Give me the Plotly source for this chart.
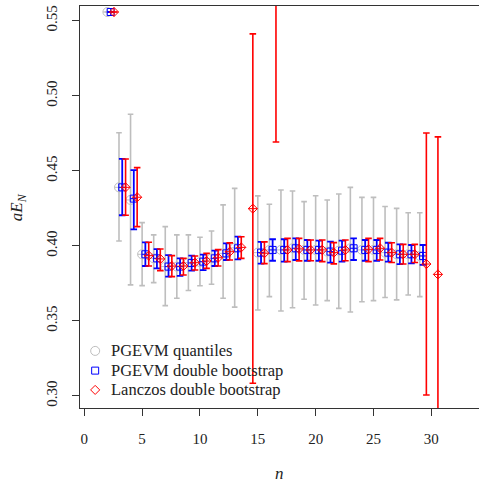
import plotly.graph_objects as go

# ---------------- data ----------------
n_grey = [2, 3, 4, 5, 6, 7, 8, 9, 10, 11, 12, 13, 15, 16, 17, 18, 19, 20, 21, 22, 23, 24, 25, 26, 27, 28, 29]
grey_val = [0.5558, 0.439, 0.4306, 0.3944, 0.3917, 0.3862, 0.3862, 0.3888, 0.3892, 0.3917, 0.395, 0.3987,
            0.3955, 0.3973, 0.3973, 0.3984, 0.3973, 0.3973, 0.3962, 0.3968, 0.3984, 0.3973, 0.3973, 0.3955,
            0.3944, 0.3944, 0.3933]
grey_hi = [0.5558, 0.4754, 0.4877, 0.4155, 0.4073, 0.4128, 0.4073, 0.4073, 0.4057, 0.4099, 0.4273, 0.4383,
           0.4333, 0.4277, 0.4372, 0.4366, 0.4295, 0.4334, 0.4306, 0.4346, 0.4390, 0.4323, 0.4323, 0.4262,
           0.4250, 0.4221, 0.4221]
grey_lo = [0.5558, 0.4033, 0.3740, 0.3735, 0.3755, 0.3602, 0.3651, 0.3703, 0.3734, 0.3744, 0.3651, 0.3592,
           0.3573, 0.3662, 0.3566, 0.3588, 0.3644, 0.3606, 0.3635, 0.3584, 0.3560, 0.3628, 0.3635, 0.3656,
           0.3640, 0.3673, 0.3662]

n_blue = [2, 3, 4, 5, 6, 7, 8, 9, 10, 11, 12, 13, 15, 16, 17, 18, 19, 20, 21, 22, 23, 24, 25, 26, 27, 28, 29]
blue_val = [0.5558, 0.439, 0.4315, 0.3944, 0.3917, 0.3862, 0.3862, 0.3886, 0.3895, 0.3917, 0.395, 0.3984,
            0.3955, 0.3973, 0.3973, 0.3984, 0.3973, 0.3973, 0.3962, 0.3968, 0.3984, 0.3973, 0.3973, 0.3955,
            0.3944, 0.3944, 0.3933]
blue_hi = [0.5558, 0.4579, 0.4504, 0.4024, 0.3979, 0.3939, 0.3917, 0.3935, 0.3942, 0.3968, 0.4017, 0.4061,
           0.4027, 0.4044, 0.4044, 0.4050, 0.4039, 0.4035, 0.4028, 0.4035, 0.4050, 0.4039, 0.4039, 0.4021,
           0.4010, 0.4006, 0.4006]
blue_lo = [0.5558, 0.4204, 0.4110, 0.3866, 0.3850, 0.3795, 0.3800, 0.3835, 0.3839, 0.3866, 0.3906, 0.3910,
           0.3882, 0.3901, 0.3895, 0.3906, 0.3901, 0.3901, 0.3888, 0.3895, 0.3906, 0.3901, 0.3901, 0.3895,
           0.3879, 0.3884, 0.3873]

n_red = [2, 3, 4, 5, 6, 7, 8, 9, 10, 11, 12, 13, 14, 15, 16, 17, 18, 19, 20, 21, 22, 24, 25, 26, 27, 28, 29, 30]
red_val = [0.5558, 0.439, 0.4324, 0.3935, 0.3913, 0.3866, 0.3866, 0.3888, 0.3899, 0.3921, 0.3961, 0.3990,
           0.4248, 0.3951, 0.62, 0.3973, 0.3980, 0.3973, 0.3973, 0.3955, 0.3973, 0.3977, 0.3984, 0.3955,
           0.3944, 0.3944, 0.3879, 0.3810]
red_hi = [0.5558, 0.4579, 0.4521, 0.4024, 0.3979, 0.3935, 0.3917, 0.3933, 0.3950, 0.3975, 0.4020, 0.4061,
          0.5412, 0.4027, 0.80, 0.4050, 0.4050, 0.4039, 0.4039, 0.4022, 0.4039, 0.4050, 0.4050, 0.4021,
          0.4010, 0.4010, 0.4752, 0.4726]
red_lo = [0.5558, 0.4204, 0.4128, 0.3866, 0.3835, 0.3795, 0.3806, 0.3839, 0.3850, 0.3866, 0.3906, 0.3917,
          0.3085, 0.3882, 0.4692, 0.3895, 0.3900, 0.3901, 0.3895, 0.3880, 0.3901, 0.3895, 0.3906, 0.3889,
          0.3879, 0.3889, 0.3007, 0.2500]

series_names = ["PGEVM quantiles", "PGEVM double bootstrap", "Lanczos double bootstrap"]

x_ticks = [0, 5, 10, 15, 20, 25, 30]
y_ticks = [0.30, 0.35, 0.40, 0.45, 0.50, 0.55]
y_ticklabels = ["0.30", "0.35", "0.40", "0.45", "0.50", "0.55"]

# ---------------- style ----------------
GREY = "#BEBEBE"
BLUE = "#0000FF"
RED = "#FF0000"
FONT = "Liberation Serif"
TXT = "#222222"
OFF_BLUE = 0.28
OFF_RED = 0.57

# legend layout (helper axis coordinates 0..1 over the plot area)
LEG_SYM_X = 0.038
LEG_TXT_X = 0.072
LEG_ROWS_Y = [0.142, 0.093, 0.045]


def errs(v, hi, lo):
    return [h - c for c, h in zip(v, hi)], [c - l for c, l in zip(v, lo)]


fig = go.Figure()

series = [
    (n_grey, 0.0, grey_val, grey_hi, grey_lo, GREY, "circle", 9, 1.6, 2.8),
    (n_blue, OFF_BLUE, blue_val, blue_hi, blue_lo, BLUE, "square", 7, 1.8, 3.3),
    (n_red, OFF_RED, red_val, red_hi, red_lo, RED, "diamond", 7, 1.6, 3.3),
]

for (n, off, v, hi, lo, col, sym, msize, ew, cw), name in zip(series, series_names):
    up, dn = errs(v, hi, lo)
    fig.add_trace(go.Scatter(
        x=[k + off for k in n], y=v, mode="markers", showlegend=False, name=name,
        marker=dict(symbol=sym + "-cross-open", size=msize, color=col, line=dict(width=1, color=col)),
        error_y=dict(type="data", symmetric=False, array=up, arrayminus=dn,
                     color=col, thickness=ew, width=cw),
        cliponaxis=True,
    ))

# manual legend (symbols on a helper overlay axis, texts as annotations)
annotations = []
for (n, off, v, hi, lo, col, sym, msize, ew, cw), name, ly in zip(series, series_names, LEG_ROWS_Y):
    fig.add_trace(go.Scatter(
        x=[LEG_SYM_X], y=[ly], xaxis="x2", yaxis="y2", mode="markers", showlegend=False,
        marker=dict(symbol=sym + "-open", size=msize, color=col, line=dict(width=1, color=col)),
        hoverinfo="skip",
    ))
    annotations.append(dict(text=name, xref="paper", yref="paper", x=LEG_TXT_X, y=ly,
                            xanchor="left", yanchor="middle", showarrow=False,
                            font=dict(family=FONT, size=16.5, color=TXT)))

annotations += [
    dict(text="<i>n</i>", xref="paper", yref="paper", x=0.5, y=-0.164, showarrow=False,
         font=dict(family=FONT, size=17, color=TXT), xanchor="center", yanchor="middle"),
    dict(text="<i>aE</i><sub><i>N</i></sub>", xref="paper", yref="paper", x=-0.155, y=0.5,
         showarrow=False, textangle=-90,
         font=dict(family=FONT, size=17, color=TXT), xanchor="center", yanchor="middle"),
]

axis_common = dict(
    showgrid=False, zeroline=False, showline=True, linecolor="#333333", linewidth=1.2,
    ticks="outside", ticklen=7, tickwidth=1.2, tickcolor="#333333",
    tickfont=dict(family=FONT, size=15, color=TXT),
)

fig.update_layout(
    width=479, height=483,
    margin=dict(l=80, r=0, t=6, b=75),
    paper_bgcolor="white", plot_bgcolor="white",
    showlegend=False,
    xaxis=dict(range=[-0.37, 34.12], tickvals=x_ticks, mirror=True, ticklabelstandoff=10, **axis_common),
    yaxis=dict(range=[0.292, 0.5598], tickvals=y_ticks, ticktext=y_ticklabels, tickangle=-90,
               mirror=False, ticklabelstandoff=9, **axis_common),
    xaxis2=dict(overlaying="x", range=[0, 1], visible=False, fixedrange=True),
    yaxis2=dict(overlaying="y", range=[0, 1], visible=False, fixedrange=True),
    annotations=annotations,
)

fig.write_html("out.html", config={"displayModeBar": False})
